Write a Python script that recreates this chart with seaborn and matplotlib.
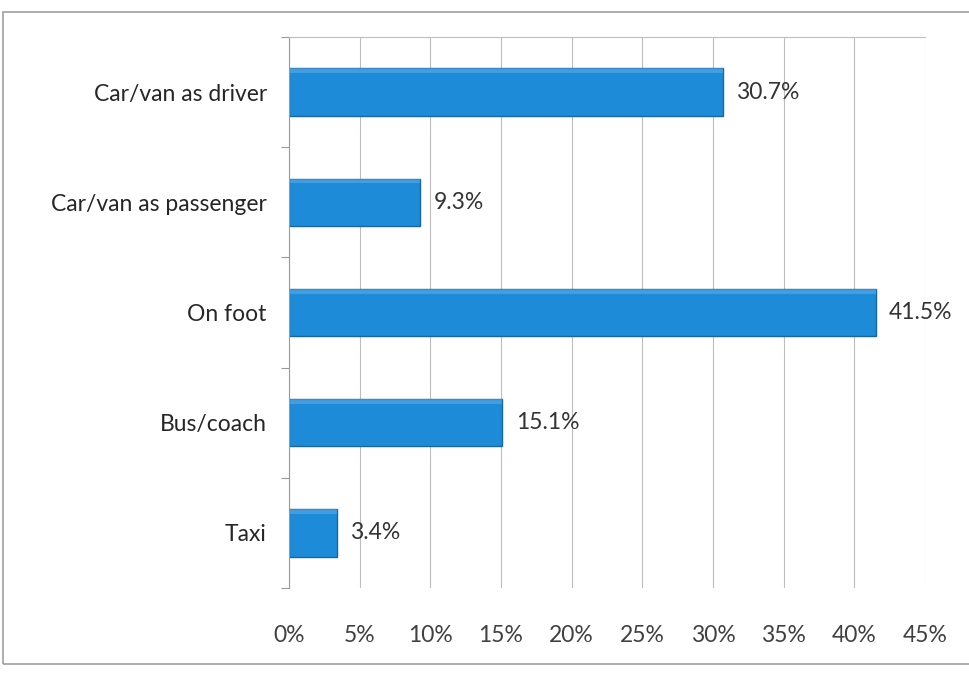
import matplotlib
matplotlib.use("Agg")
import matplotlib.pyplot as plt
from matplotlib.patches import Rectangle
from matplotlib.ticker import FuncFormatter, FixedLocator
import seaborn as sns
import pandas as pd

# Mode of travel shares
modes = ["Car/van as driver", "Car/van as passenger", "On foot", "Bus/coach", "Taxi"]
shares = [30.7, 9.3, 41.5, 15.1, 3.4]
x_ticks = [0, 5, 10, 15, 20, 25, 30, 35, 40, 45]

df = pd.DataFrame({"mode": modes, "share": shares})

sns.set_theme(style="white")
plt.rcParams["font.family"] = ["Lato", "DejaVu Sans"]

fig = plt.figure(figsize=(9.69, 6.73), dpi=100)
fig.patch.set_facecolor("white")
ax = fig.add_axes([289 / 969, 1 - 588 / 673, (925 - 289) / 969, (588 - 37) / 673])

bar_color = "#1E8BD8"
sns.barplot(data=df, x="share", y="mode", orient="h", color=bar_color,
            width=0.43, edgecolor="#1766AA", linewidth=1.0, saturation=1, ax=ax)

# soft bevel highlight along the top edge of each bar
for p in list(ax.patches):
    x0, y0 = p.get_x(), p.get_y()
    w, h = p.get_width(), p.get_height()
    ax.add_patch(Rectangle((x0, y0), w, h * 0.1, facecolor="#6DB8EC",
                           edgecolor="none", alpha=0.45, zorder=p.get_zorder() + 0.1))

ax.set_xlim(0, 45)
ax.set_ylim(4.5, -0.5)
ax.xaxis.set_major_locator(FixedLocator(x_ticks))
ax.xaxis.set_major_formatter(FuncFormatter(lambda v, _: f"{v:.0f}%"))
ax.grid(axis="x", color="#BDBDBD", linewidth=0.8)
ax.grid(axis="y", visible=False)
ax.set_axisbelow(True)

ax.set_xlabel("")
ax.set_ylabel("")

for s in ["right", "bottom"]:
    ax.spines[s].set_visible(False)
ax.spines["left"].set_color("#9A9A9A")
ax.spines["left"].set_linewidth(0.8)
ax.spines["top"].set_color("#BDBDBD")
ax.spines["top"].set_linewidth(0.8)

ax.tick_params(axis="x", length=0, pad=27, labelsize=16.5, labelcolor="#404040")
ax.tick_params(axis="y", which="major", length=0, pad=16, labelsize=16.5, labelcolor="#262626")
ax.yaxis.set_minor_locator(FixedLocator([-0.5, 0.5, 1.5, 2.5, 3.5, 4.5]))
ax.tick_params(axis="y", which="minor", left=True, length=6, width=0.8, color="#9A9A9A")

for i, v in enumerate(shares):
    ax.text(v + 0.95, i, f"{v:.1f}%", va="center", ha="left",
            fontsize=16.5, color="#333333")

# chart area frame
fig.add_artist(Rectangle((3 / 969, 1 - 664 / 673), 980 / 969, (664 - 12) / 673,
                         transform=fig.transFigure, fill=False,
                         edgecolor="#A0A0A0", linewidth=1.2))

fig.savefig("out.png", dpi=100, facecolor="white")
